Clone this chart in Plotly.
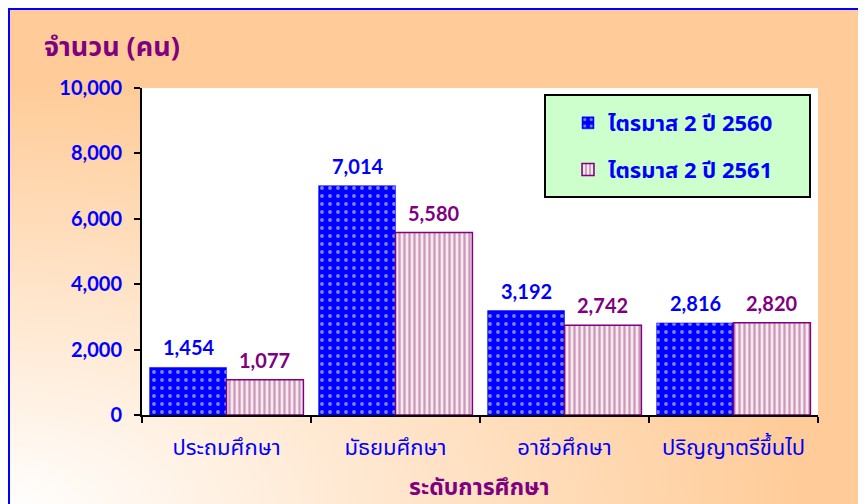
import plotly.graph_objects as go

# data
categories = ["ประถมศึกษา", "มัธยมศึกษา", "อาชีวศึกษา", "ปริญญาตรีขึ้นไป"]
series_names = ["ไตรมาส 2 ปี 2560", "ไตรมาส 2 ปี 2561"]
values_2560 = [1454, 7014, 3192, 2816]
values_2561 = [1077, 5580, 2742, 2820]
y_ticks = [0, 2000, 4000, 6000, 8000, 10000]

# the page has an 8px body margin, so the figure is drawn 8px smaller and
# everything is laid out in window pixels (OFF .. OFF + size)
OFF = 8
W, H = 866 - OFF, 504 - OFF
# plot area in window pixels
PL, PR, PT, PB = 142, 818, 88, 415


def px(x):
    return (x - OFF) / W


def py(y):
    return 1 - (y - OFF) / H


thai = "Tahoma, 'Noto Sans Thai', 'Noto Sans', Lato, sans-serif"
num = "Lato, 'Noto Sans', sans-serif"
blue = "#0000FF"
purple = "#800080"
peach = "#FFCC99"

fig = go.Figure()

# background: radial gradient from the lower left corner (window pixels on x/y)
cx, cy, rx, ry = 0, 510, 1000, 530
fig.add_trace(
    go.Scatter(
        x=[cx - rx, cx + rx, cx + rx, cx - rx, cx - rx],
        y=[cy - ry, cy - ry, cy + ry, cy + ry, cy - ry],
        mode="lines",
        fill="toself",
        line=dict(width=0),
        fillgradient=dict(
            type="radial",
            colorscale=[[0, "#FFFFFF"], [0.8, peach], [1, peach]],
        ),
        hoverinfo="skip",
        showlegend=False,
    )
)
# white plot area
fig.add_trace(
    go.Scatter(
        x=[PL, PR, PR, PL, PL],
        y=[PT, PT, PB, PB, PT],
        mode="lines",
        fill="toself",
        fillcolor="white",
        line=dict(width=0),
        hoverinfo="skip",
        showlegend=False,
    )
)

fig.add_trace(
    go.Bar(
        x=categories,
        y=values_2560,
        name=series_names[0],
        legendgroup="a",
        xaxis="x2",
        yaxis="y2",
        marker=dict(
            color=blue,
            line=dict(color=blue, width=0.5),
            pattern=dict(shape=".", fgcolor="white", size=8, solidity=0.18),
        ),
    )
)
fig.add_trace(
    go.Bar(
        x=categories,
        y=values_2561,
        name=series_names[1],
        legendgroup="b",
        xaxis="x2",
        yaxis="y2",
        marker=dict(
            color="#F7E8F0",
            line=dict(color=purple, width=1.5),
            pattern=dict(shape="|", fgcolor="#A04A7E", size=5, solidity=0.45),
        ),
    )
)

annotations = []
for vals, shift, col in [(values_2560, -38, blue), (values_2561, 38, purple)]:
    for c, v in zip(categories, vals):
        annotations.append(
            dict(
                x=c, y=v, xref="x2", yref="y2", xshift=shift, yshift=6,
                text=f"{v:,}", showarrow=False, yanchor="bottom",
                font=dict(family=num, size=20, color=col, weight="bold"),
            )
        )
annotations.append(
    dict(x=42, y=47, xref="x", yref="y", text="<b>จำนวน (คน)</b>",
         showarrow=False, xanchor="left", yanchor="middle",
         font=dict(family=thai, size=27, color=purple))
)
annotations.append(
    dict(x=479, y=488, xref="x", yref="y", text="<b>ระดับการศึกษา</b>",
         showarrow=False, xanchor="center", yanchor="middle",
         font=dict(family=thai, size=23, color=purple))
)

shapes = [
    # legend box
    dict(type="rect", xref="x", yref="y", x0=545, x1=810, y0=95, y1=197,
         fillcolor="#CCFFCC", line=dict(color="black", width=2), layer="above"),
    # blue frame
    dict(type="rect", xref="x", yref="y", x0=9, x1=862, y0=9, y1=520,
         line=dict(color=blue, width=2), layer="above"),
]

fig.update_layout(
    width=W,
    height=H,
    margin=dict(l=0, r=0, t=0, b=0, pad=0, autoexpand=False),
    paper_bgcolor="white",
    plot_bgcolor="rgba(0,0,0,0)",
    barmode="group",
    bargap=0.09,
    bargroupgap=0,
    showlegend=True,
    legend=dict(
        x=px(568), y=py(102), xanchor="left", yanchor="top",
        bgcolor="rgba(0,0,0,0)", borderwidth=0,
        traceorder="grouped", tracegroupgap=15,
        font=dict(family=thai, size=22, color=blue, weight="bold"),
    ),
    xaxis=dict(domain=[0, 1], range=[OFF, OFF + W], visible=False, fixedrange=True),
    yaxis=dict(domain=[0, 1], range=[OFF + H, OFF], visible=False, fixedrange=True),
    xaxis2=dict(
        domain=[px(PL), px(PR)], anchor="y2",
        showline=True, linecolor="black", linewidth=2,
        ticks="outside", tickson="boundaries", ticklen=6, tickcolor="black", tickwidth=2,
        ticklabelstandoff=12,
        tickfont=dict(family=thai, size=22, color=blue),
        showgrid=False,
    ),
    yaxis2=dict(
        domain=[py(PB), py(PT)], anchor="x2",
        range=[0, 10000], tickvals=y_ticks, tickformat=",",
        showline=True, linecolor="black", linewidth=2,
        ticks="outside", ticklen=6, tickcolor="black", tickwidth=2,
        ticklabelstandoff=8,
        tickfont=dict(family=num, size=20, color=blue, weight="bold"),
        showgrid=False, zeroline=False,
    ),
    annotations=annotations,
    shapes=shapes,
)

fig.write_html("out.html")
